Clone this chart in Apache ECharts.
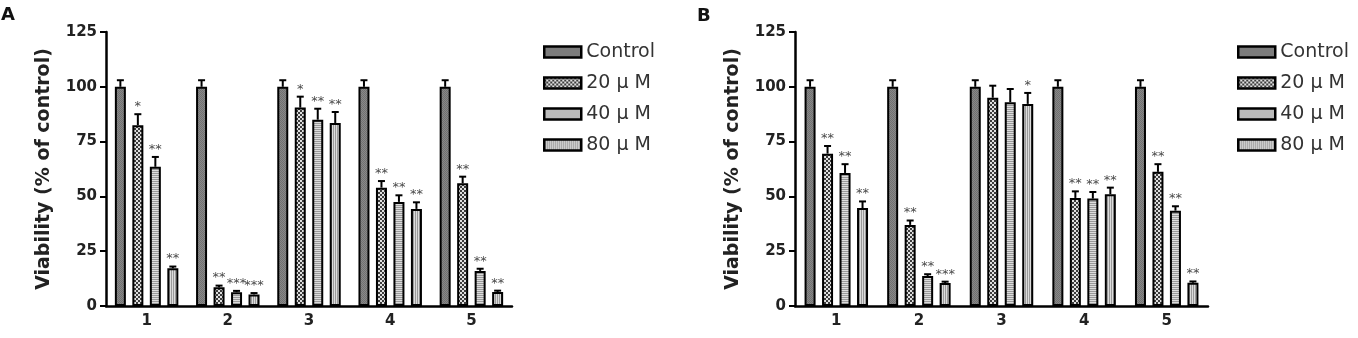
<!DOCTYPE html>
<html><head><meta charset="utf-8">
<script src="https://cdn.jsdelivr.net/npm/echarts@6/dist/echarts.min.js"></script>
<style>html,body{margin:0;padding:0;background:#fff}#c{width:1358px;height:338px}</style>
</head><body><div id="c"></div>
<script>
// ---------------- data ----------------
const categories = ['1', '2', '3', '4', '5'];
const seriesNames = ['Control', '20 µ M', '40 µ M', '80 µ M'];
const yTicks = [0, 25, 50, 75, 100, 125];

// Panel A
const A_control = [100, 100, 100, 100, 100];
const A_20 = [82.5, 8.5, 90.5, 54, 56];
const A_40 = [63.5, 6.3, 85, 47.5, 16];
const A_80 = [17.2, 5.3, 83.5, 44.3, 6.4];
const A_err_control = [3, 3, 3, 3, 3];
const A_err_20 = [5, 0.8, 5, 3, 3];
const A_err_40 = [4.5, 0.6, 5, 3, 1];
const A_err_80 = [0.8, 0.6, 5, 3, 0.6];
const A_stars_control = ['', '', '', '', ''];
const A_stars_20 = ['*', '**', '*', '**', '**'];
const A_stars_40 = ['**', '***', '**', '**', '**'];
const A_stars_80 = ['**', '***', '**', '**', '**'];

// Panel B
const B_control = [100, 100, 100, 100, 100];
const B_20 = [69.5, 37, 95, 49.3, 61.2];
const B_40 = [60.7, 13.7, 93, 49, 43.5];
const B_80 = [44.7, 10.5, 92.2, 51, 10.6];
const B_err_control = [3, 3, 3, 3, 3];
const B_err_20 = [3.5, 2, 5.5, 3, 3.5];
const B_err_40 = [4, 0.8, 6, 3, 2];
const B_err_80 = [3, 0.6, 5, 3, 0.6];
const B_stars_control = ['', '', '', '', ''];
const B_stars_20 = ['**', '**', '', '**', '**'];
const B_stars_40 = ['**', '**', '', '**', '**'];
const B_stars_80 = ['**', '***', '*', '**', '**'];

// ---------------- patterns ----------------
function makePattern(w, h, draw) {
  const cv = document.createElement('canvas');
  cv.width = w; cv.height = h;
  const ctx = cv.getContext('2d');
  draw(ctx);
  return { image: cv, repeat: 'repeat' };
}
const patControl = makePattern(2, 2, c => {
  c.fillStyle = '#888888'; c.fillRect(0, 0, 2, 2);
  c.fillStyle = '#707070'; c.fillRect(0, 0, 1, 1); c.fillRect(1, 1, 1, 1);
});
const pat20 = makePattern(4, 4, c => {
  c.fillStyle = '#3c3c3c'; c.fillRect(0, 0, 4, 4);
  c.fillStyle = '#e0e0e0'; c.fillRect(0, 0, 2, 2); c.fillRect(2, 2, 2, 2);
});
const pat40 = makePattern(2, 2, c => {
  c.fillStyle = '#dcdcdc'; c.fillRect(0, 0, 2, 2);
  c.fillStyle = '#9a9a9a'; c.fillRect(0, 1, 2, 1);
});
const pat80 = makePattern(2, 2, c => {
  c.fillStyle = '#dcdcdc'; c.fillRect(0, 0, 2, 2);
  c.fillStyle = '#9a9a9a'; c.fillRect(1, 0, 1, 2);
});
const patterns = [patControl, pat20, pat40, pat80];

// ---------------- layout constants ----------------
const BAR_W = 11;
const BAR_GAP = 0.59;
const STEP = BAR_W * (1 + BAR_GAP);
const CAP = 3.5;
const FONT = 'DejaVu Sans';

const panels = [
  { vals: [A_control, A_20, A_40, A_80], errs: [A_err_control, A_err_20, A_err_40, A_err_80],
    stars: [A_stars_control, A_stars_20, A_stars_40, A_stars_80] },
  { vals: [B_control, B_20, B_40, B_80], errs: [B_err_control, B_err_20, B_err_40, B_err_80],
    stars: [B_stars_control, B_stars_20, B_stars_40, B_stars_80] }
];

function errRender(si, stars) {
  return function (params, api) {
    const c = api.value(0), v = api.value(1), e = api.value(2);
    const p0 = api.coord([c, v]);
    const p1 = api.coord([c, v + e]);
    const x = p0[0] + (si - 1.5) * STEP;
    return {
      type: 'group',
      children: [
        { type: 'line', shape: { x1: x, y1: p0[1], x2: x, y2: p1[1] }, style: { stroke: '#000', lineWidth: 2 } },
        { type: 'line', shape: { x1: x - CAP, y1: p1[1], x2: x + CAP, y2: p1[1] }, style: { stroke: '#000', lineWidth: 2 } },
        { type: 'text', x: x, y: p1[1] - 1,
          style: { text: stars[params.dataIndex], fill: '#4a4a4a', font: '13px "' + FONT + '"', align: 'center', verticalAlign: 'bottom' } }
      ]
    };
  };
}

const series = [];
panels.forEach((p, pi) => {
  p.vals.forEach((arr, si) => {
    series.push({
      type: 'bar', name: seriesNames[si], xAxisIndex: pi, yAxisIndex: pi,
      data: arr, barWidth: BAR_W, barGap: (BAR_GAP * 100) + '%',
      itemStyle: { color: patterns[si], borderColor: '#000', borderWidth: 2 },
      emphasis: { disabled: true }, z: 2
    });
  });
  p.vals.forEach((arr, si) => {
    series.push({
      type: 'custom', xAxisIndex: pi, yAxisIndex: pi, z: 3,
      renderItem: errRender(si, p.stars[si]),
      encode: { x: 0, y: 1 },
      data: arr.map((v, i) => [i, v, p.errs[si][i]])
    });
  });
});

const grids = [
  { left: 106, top: 32, width: 406, height: 274 },
  { left: 795, top: 32, width: 413, height: 274 }
];

function xAx(i) {
  return {
    type: 'category', gridIndex: i, data: categories,
    axisLine: { lineStyle: { color: '#000', width: 2.5 } },
    axisTick: { alignWithLabel: true, length: 6, lineStyle: { color: '#000', width: 2 } },
    axisLabel: { color: '#222', fontFamily: FONT, fontWeight: 'bold', fontSize: 15, margin: 8 }
  };
}
function yAx(i) {
  return {
    type: 'value', gridIndex: i, min: 0, max: 125, interval: 25,
    name: 'Viability (% of control)', nameLocation: 'middle', nameGap: 52,
    nameTextStyle: { color: '#222', fontFamily: FONT, fontWeight: 'bold', fontSize: 19 },
    axisLine: { show: true, lineStyle: { color: '#000', width: 2.5 } },
    axisTick: { show: true, length: 6, lineStyle: { color: '#000', width: 2 } },
    axisLabel: { color: '#222', fontFamily: FONT, fontWeight: 'bold', fontSize: 15, margin: 9,
      formatter: v => yTicks.includes(v) ? String(v) : '' },
    splitLine: { show: false }
  };
}
function legend(left) {
  return {
    orient: 'vertical', left: left, top: 42, padding: 0, data: seriesNames,
    icon: 'rect', itemWidth: 37, itemHeight: 11, itemGap: 11,
    selectedMode: false,
    itemStyle: { borderColor: '#000', borderWidth: 2.5 },
    textStyle: { color: '#333', fontFamily: FONT, fontSize: 19, lineHeight: 20, padding: [0, 0, 0, 0] }
  };
}

const chart = echarts.init(document.getElementById('c'), null, { renderer: 'canvas' });
chart.setOption({
  animation: false,
  backgroundColor: '#fff',
  title: [
    { text: 'A', left: 1, top: 6, padding: 0, textStyle: { fontFamily: FONT, fontWeight: 'bold', fontSize: 18, color: '#111' } },
    { text: 'B', left: 697, top: 7, padding: 0, textStyle: { fontFamily: FONT, fontWeight: 'bold', fontSize: 18, color: '#111' } }
  ],
  legend: [legend(543), legend(1237)],
  grid: grids,
  xAxis: [xAx(0), xAx(1)],
  yAxis: [yAx(0), yAx(1)],
  series: series
});
</script></body></html>
